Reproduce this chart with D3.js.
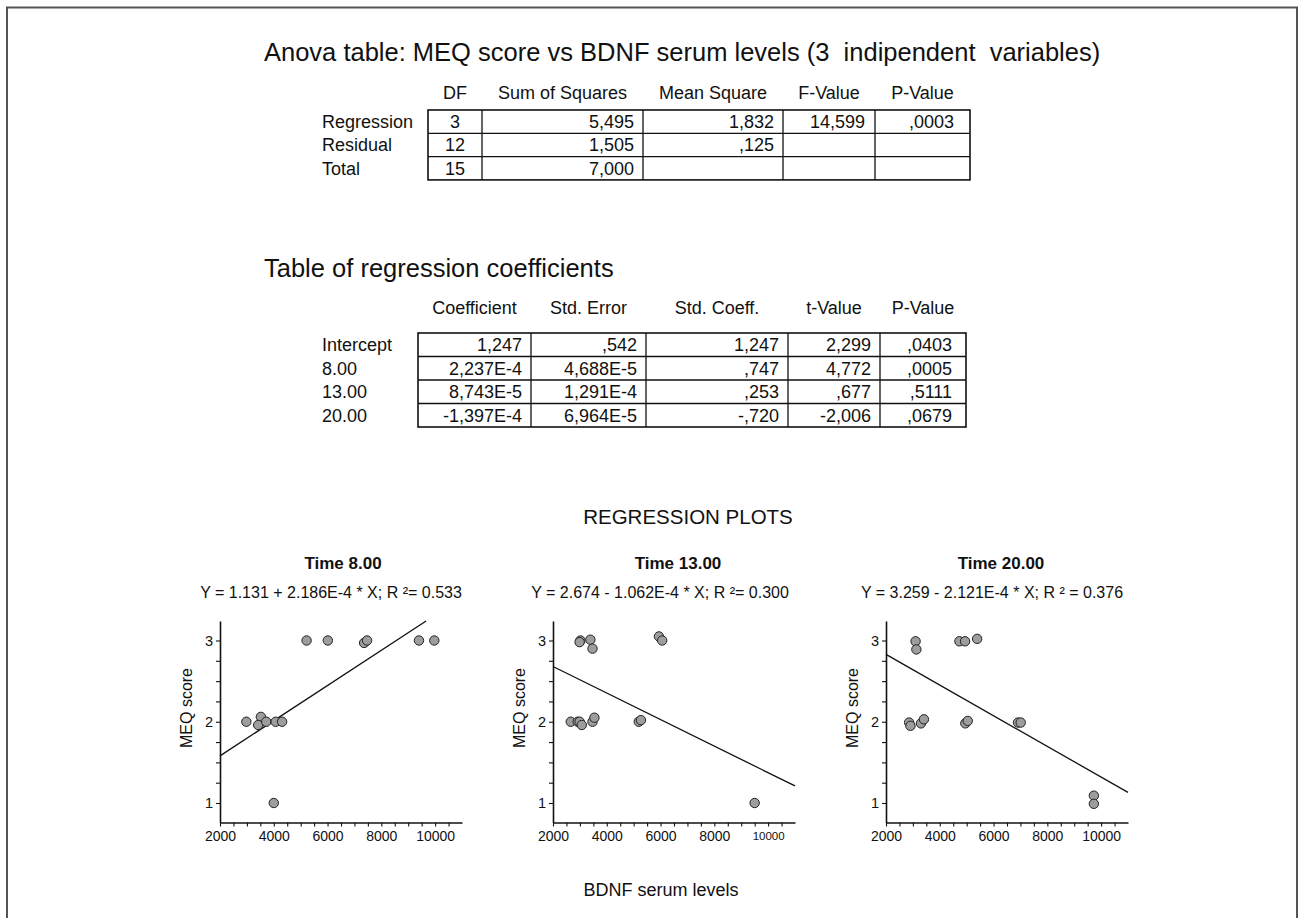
<!DOCTYPE html>
<html>
<head>
<meta charset="UTF-8">
<title>MEQ score vs BDNF serum levels</title>
<script src="https://d3js.org/d3.v7.min.js"></script>
<style>
  body { margin: 0; background: #fff; }
  svg text { font-family: "Liberation Sans", Arial, sans-serif; fill: #111; }
</style>
</head>
<body>
<script>
// ANOVA table
var anovaHeader = ["DF", "Sum of Squares", "Mean Square", "F-Value", "P-Value"];
var anovaRows = ["Regression", "Residual", "Total"];
var anovaDF = ["3", "12", "15"];
var anovaSS = ["5,495", "1,505", "7,000"];
var anovaMS = ["1,832", ",125", ""];
var anovaF = ["14,599", "", ""];
var anovaP = [",0003", "", ""];

// regression coefficients
var coefHeader = ["Coefficient", "Std. Error", "Std. Coeff.", "t-Value", "P-Value"];
var coefRows = ["Intercept", "8.00", "13.00", "20.00"];
var coefValue = ["1,247", "2,237E-4", "8,743E-5", "-1,397E-4"];
var coefStdErr = [",542", "4,688E-5", "1,291E-4", "6,964E-5"];
var coefStdCoeff = ["1,247", ",747", ",253", "-,720"];
var coefT = ["2,299", "4,772", ",677", "-2,006"];
var coefP = [",0403", ",0005", ",5111", ",0679"];

// regression plots
var plotTitles = ["Time 8.00", "Time 13.00", "Time 20.00"];
var equations = ["Y = 1.131 + 2.186E-4 * X; R \u00b2= 0.533",
                 "Y = 2.674 - 1.062E-4 * X; R \u00b2= 0.300",
                 "Y = 3.259 - 2.121E-4 * X; R \u00b2 = 0.376"];
var xTicks = [2000, 4000, 6000, 8000, 10000];
var yTicks = [1, 2, 3];

var bdnf8  = [2980, 3520, 3420, 3720, 4070, 4310, 4000, 5220, 6010, 7360, 7470, 9400, 9970];
var meq8   = [2, 2.06, 1.96, 2, 2, 2, 1, 3, 3, 2.97, 3, 3, 3];
var bdnf13 = [2660, 2920, 2990, 3070, 3020, 2990, 3390, 3470, 3470, 3540, 5190, 5270, 5940, 6060, 9500];
var meq13  = [2, 2, 2, 1.96, 3, 2.98, 3.01, 2.9, 2, 2.05, 2, 2.02, 3.05, 3, 1];
var bdnf20 = [2860, 2910, 3100, 3130, 3300, 3410, 4730, 4940, 5390, 4950, 5040, 6910, 7010, 9730, 9730];
var meq20  = [1.99, 1.95, 2.99, 2.89, 1.98, 2.03, 2.99, 2.99, 3.02, 1.98, 2.01, 1.99, 1.99, 1.09, 0.99];

// fitted lines as drawn: [x0, y0, x1, y1]
var fit8  = [2000, 1.58, 9665, 3.24];
var fit13 = [2000, 2.68, 11000, 1.21];
var fit20 = [2000, 2.83, 11000, 1.13];

var W = 1299, H = 918;
var svg = d3.select("body").append("svg").attr("width", W).attr("height", H);

// frame
svg.append("path")
    .attr("d", "M7,930 V7.5 H1297 V930")
    .attr("fill", "none").attr("stroke", "#555").attr("stroke-width", 2);

// ---------- tables ----------
function drawTable(opt) {
    var g = svg.append("g");
    var cols = opt.cols, top = opt.top, rh = opt.rowH;
    var n = opt.rows.length;
    g.selectAll(".hdr").data(opt.header).enter().append("text")
        .attr("x", function (d, i) { return (cols[i] + cols[i + 1]) / 2; })
        .attr("y", opt.headerY)
        .attr("text-anchor", "middle")
        .style("font-size", opt.fs + "px")
        .text(function (d) { return d; });
    g.selectAll(".lbl").data(opt.rows).enter().append("text")
        .attr("x", opt.labelX)
        .attr("y", function (d, i) { return top + rh * i + rh / 2 + opt.fs * 0.36; })
        .style("font-size", opt.fs + "px")
        .text(function (d) { return d; });
    // cell borders
    g.append("rect").attr("x", cols[0]).attr("y", top)
        .attr("width", cols[cols.length - 1] - cols[0]).attr("height", rh * n)
        .attr("fill", "none").attr("stroke", "#111").attr("stroke-width", 1.6);
    for (var i = 1; i < cols.length - 1; i++) {
        g.append("line").attr("x1", cols[i]).attr("x2", cols[i])
            .attr("y1", top).attr("y2", top + rh * n)
            .attr("stroke", "#111").attr("stroke-width", 1.3);
    }
    for (var r = 1; r < n; r++) {
        g.append("line").attr("x1", cols[0]).attr("x2", cols[cols.length - 1])
            .attr("y1", top + rh * r).attr("y2", top + rh * r)
            .attr("stroke", "#111").attr("stroke-width", 1.3);
    }
    opt.values.forEach(function (colVals, c) {
        var al = opt.align[c];
        g.selectAll(".c" + c).data(colVals).enter().append("text")
            .attr("x", al === "middle" ? (cols[c] + cols[c + 1]) / 2 : cols[c + 1] - opt.pad[c])
            .attr("y", function (d, i) { return top + rh * i + rh / 2 + opt.fs * 0.36; })
            .attr("text-anchor", al)
            .style("font-size", opt.fs + "px")
            .text(function (d) { return d; });
    });
}

svg.append("text").attr("x", 264).attr("y", 61)
    .style("font-size", "25.5px")
    .style("white-space", "pre")
    .text("Anova table: MEQ score vs BDNF serum levels (3  indipendent  variables)");

drawTable({
    header: anovaHeader, rows: anovaRows,
    values: [anovaDF, anovaSS, anovaMS, anovaF, anovaP],
    cols: [428, 482, 643, 783, 875, 970],
    align: ["middle", "end", "end", "end", "end"],
    pad: [0, 9, 9, 10, 16],
    top: 110, rowH: 23.3, headerY: 99, labelX: 322, fs: 18
});

svg.append("text").attr("x", 264).attr("y", 277)
    .style("font-size", "25.5px")
    .text("Table of regression coefficients");

drawTable({
    header: coefHeader, rows: coefRows,
    values: [coefValue, coefStdErr, coefStdCoeff, coefT, coefP],
    cols: [418, 531, 646, 788, 880, 966],
    align: ["end", "end", "end", "end", "end"],
    pad: [9, 9, 9, 9, 14],
    top: 333, rowH: 23.5, headerY: 314, labelX: 322, fs: 18
});

// ---------- regression plots ----------
svg.append("text").attr("x", 688).attr("y", 524)
    .attr("text-anchor", "middle").style("font-size", "20.5px")
    .text("REGRESSION PLOTS");

var panels = [
    { x0: 220, bdnf: bdnf8, meq: meq8, fit: fit8, titleX: 343, eqX: 331 },
    { x0: 553, bdnf: bdnf13, meq: meq13, fit: fit13, titleX: 678, eqX: 660 },
    { x0: 886, bdnf: bdnf20, meq: meq20, fit: fit20, titleX: 1001, eqX: 992 }
];

var plotW = 242, yTop = 621, yBot = 822.5;
var y = d3.scaleLinear().domain([0.76, 3.24]).range([yBot, yTop]);

panels.forEach(function (p, k) {
    var g = svg.append("g");
    var x = d3.scaleLinear().domain([2000, 11000]).range([p.x0, p.x0 + plotW]);

    g.append("text").attr("x", p.titleX).attr("y", 569)
        .attr("text-anchor", "middle").style("font-size", "17px").style("font-weight", "bold")
        .text(plotTitles[k]);
    g.append("text").attr("x", p.eqX).attr("y", 598)
        .attr("text-anchor", "middle").style("font-size", "16px")
        .style("white-space", "pre")
        .text(equations[k]);

    // x axis with minor ticks every 500
    var xa = g.append("g").attr("transform", "translate(0," + yBot + ")")
        .call(d3.axisBottom(x).tickValues(d3.range(2000, 11000, 500))
            .tickSize(4).tickSizeOuter(0).tickPadding(5)
            .tickFormat(function (d) { return xTicks.indexOf(d) >= 0 ? d : ""; }));
    xa.selectAll("text").style("font-size", function (d) {
        return (k === 1 && d === 10000) ? "11.5px" : "14px";
    }).style("fill", "#111");

    var ya = g.append("g").attr("transform", "translate(" + p.x0 + ",0)")
        .call(d3.axisLeft(y).tickValues(d3.range(1, 3.01, 0.25))
            .tickSize(4).tickSizeOuter(0).tickPadding(3)
            .tickFormat(function (d) { return yTicks.indexOf(d) >= 0 ? d : ""; }));
    ya.selectAll("text").style("font-size", "14.5px").style("fill", "#111");

    g.selectAll(".domain").attr("stroke", "#111").attr("stroke-width", 1.6);
    g.selectAll(".tick line").attr("stroke", "#111").attr("stroke-width", 1.1);

    g.append("text")
        .attr("transform", "translate(" + (p.x0 - 28) + "," + 708 + ") rotate(-90)")
        .attr("text-anchor", "middle").style("font-size", "16px")
        .text("MEQ score");

    g.append("line")
        .attr("x1", x(p.fit[0])).attr("y1", y(p.fit[1]))
        .attr("x2", x(p.fit[2])).attr("y2", y(p.fit[3]))
        .attr("stroke", "#111").attr("stroke-width", 1.3);

    g.selectAll("circle").data(p.bdnf).enter().append("circle")
        .attr("cx", function (d) { return x(d); })
        .attr("cy", function (d, i) { return y(p.meq[i]); })
        .attr("r", 4.7)
        .attr("fill", "#9d9d9d").attr("stroke", "#222").attr("stroke-width", 1);
});

svg.append("text").attr("x", 661).attr("y", 896)
    .attr("text-anchor", "middle").style("font-size", "18px")
    .text("BDNF serum levels");
</script>
</body>
</html>
